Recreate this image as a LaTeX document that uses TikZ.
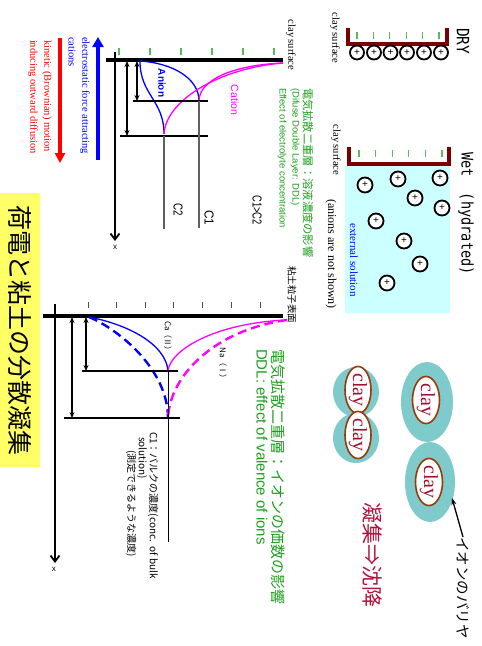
\documentclass[tikz,border=0pt]{standalone}
\usepackage{fontspec}
\setmainfont{Liberation Serif}
\newfontfamily\jpfont{Noto Sans CJK JP}
\newfontfamily\arialfont{Liberation Sans}
\newfontfamily\monofont{DejaVu Sans Mono}
\usetikzlibrary{arrows.meta,shapes.geometric}
\newcommand{\fsz}[1]{\fontsize{#1}{#1}\selectfont}

\definecolor{clayred}{HTML}{7A0000}
\definecolor{tickgreen}{HTML}{5FB85F}
\definecolor{txtgreen}{HTML}{1E9E1E}
\definecolor{solcyan}{HTML}{CCFFFF}
\definecolor{hydteal}{HTML}{7FCBCB}
\definecolor{rimbrown}{HTML}{9A3A0A}
\definecolor{claytxt}{HTML}{A0102E}
\definecolor{sinkred}{HTML}{B0103A}
\definecolor{boxyellow}{HTML}{FFFF66}
\definecolor{curvegray}{HTML}{606060}
\definecolor{catmag}{RGB}{255,0,255}
\definecolor{anblue}{RGB}{0,0,255}
\definecolor{kinred}{RGB}{255,0,0}

\begin{document}
\begin{tikzpicture}[x=1pt, y=-1pt,
  vlabel/.style={rotate=-90, inner sep=0pt, outer sep=0pt},
  ion/.style={circle, draw, line width=1.8pt, minimum size=14pt, inner sep=0pt, fill=white, font=\arialfont\fsz{10}},
  surf/.style={line width=3.5pt},
  bracketline/.style={clayred, line width=3.5pt},
  gtick/.style={tickgreen, line width=1.2pt},
  ktick/.style={black!70, line width=1pt},
  dbl/.style={line width=1.4pt, {Stealth[length=6pt,width=5pt]}-{Stealth[length=6pt,width=5pt]}},
  axisarrow/.style={line width=1.8pt, -{Straight Barb[length=6pt,width=9pt]}},
  anion/.style={anblue, line width=1.3pt},
  cation/.style={catmag, line width=1.3pt},
  dashcurve/.style={line width=2.4pt, dash pattern=on 9pt off 5pt},
  bulkline/.style={curvegray, line width=1.1pt},
  layerline/.style={black, line width=1.3pt},
  hydration/.style={ellipse, fill=hydteal, inner sep=0pt},
  claycore/.style={ellipse, draw=rimbrown, line width=1.6pt, fill=white, inner sep=0pt, rotate=-90,
    minimum width=44pt, minimum height=27pt, text=claytxt, font=\fsz{20}},
]
\useasboundingbox (0,0) rectangle (482,646);

% ---------------- dry clay ----------------
\node[vlabel, anchor=west, font=\monofont\fsz{17}, xscale=0.85] (dry) at (463,28) {DRY};
\draw[bracketline] (348,28) -- (348,44) -- (447,44) -- (447,28);
\foreach \x in {357,373.4,389.8,406.2,422.6,439} \draw[gtick] (\x,32) -- (\x,39);
\foreach \x [count=\i] in {357,374,390.5,407,424,441}
  \node[ion] (dion\i) at (\x,52.5) {+};
\node[vlabel, font=\fsz{10.5}] (drysurf) at (335,38) {clay surface};

% ---------------- wet clay ----------------
\node[vlabel, anchor=west, font=\monofont\fsz{16}, xscale=0.85] (wet) at (466,152) {Wet\ \ (hydrated)};
\fill[solcyan] (345,165) rectangle (450,313);
\draw[bracketline] (349,147) -- (349,164) -- (449,164) -- (449,147);
\foreach \x in {359,375.6,392.2,408.8,425.4,442} \draw[gtick] (\x,150) -- (\x,157);
\foreach \p [count=\i] in {(440,178),(398,179),(365,185),(415,198),(442,208),(376,221),(404,241),(420,264),(387,283)}
  \node[ion, minimum size=15pt] (wion\i) at \p {+};
\node[vlabel, font=\fsz{11}, text=anblue] (extsol) at (354,260) {external solution};
\node[vlabel, font=\fsz{12}] (notshown) at (331,254) {(anions are not shown)};
\node[vlabel, font=\fsz{10.5}] (wetsurf) at (336,150) {clay surface};

% ---------------- concentration profiles, electrolyte ----------------
\node[vlabel, font=\fsz{10.5}] (surf1lbl) at (291,45) {clay surface};
\node[vlabel, anchor=west, text=txtgreen, font=\jpfont\fsz{11.3}] (g1a) at (308,88) {電気拡散二重層：溶液濃度の影響};
\node[vlabel, anchor=west, text=txtgreen, font=\arialfont\fsz{9.5}] (g1b) at (295,88) {(Difuse Double Layer: DDL)};
\node[vlabel, anchor=west, text=txtgreen, font=\arialfont\fsz{9.5}] (g1c) at (282,88) {Effect of electrolyte concentration};
\node[vlabel, anchor=west, font=\jpfont\fsz{9.5}] (surf2lbl) at (292,266) {粘土粒子表面};

\coordinate (sA) at (106,60);
\coordinate (sB) at (283,60);
\draw[surf] (sA) -- (sB);
\coordinate (axA) at (115,52);
\coordinate (axB) at (115,241);
\draw[axisarrow] (axA) -- (axB);
\node[font=\arialfont\fsz{8}] (xlbl1) at (115,247) {x};
\foreach \x in {119,150,181,212,243,274} \draw[gtick] (\x,48) -- (\x,55);

\coordinate (an0) at (140,61);
\coordinate (ca0) at (283,63);
\coordinate (jC1) at (199,101);
\coordinate (jC2) at (164,134);
\draw[anion] (an0) .. controls (172,63) and (199,78) .. (jC1);
\draw[anion] (an0) .. controls (140,95) and (164,100) .. (jC2);
\draw[cation] (ca0) .. controls (233,65) and (199,80) .. (jC1);
\draw[cation] (ca0) .. controls (220,68) and (166,100) .. (jC2);

\coordinate (h1a) at (133,101);
\coordinate (h1b) at (208,101);
\coordinate (h2a) at (120,136);
\coordinate (h2b) at (208,136);
\draw[layerline] (h1a) -- (h1b);
\draw[layerline] (h2a) -- (h2b);
\coordinate (C1end) at (199,228);
\coordinate (C2end) at (164,229);
\draw[bulkline] (jC1) -- (C1end);
\draw[bulkline] (164,136) -- (C2end);
\coordinate (d1a) at (137,61);
\coordinate (d1b) at (137,101);
\coordinate (d2a) at (127,61);
\coordinate (d2b) at (127,136);
\draw[dbl] (d1a) -- (d1b);
\draw[dbl] (d2a) -- (d2b);

\node[vlabel, text=anblue, font=\arialfont\bfseries\fsz{10}] (anlbl) at (162,83) {Anion};
\node[vlabel, text=catmag, font=\arialfont\fsz{10.5}] (calbl) at (235,100) {Cation};
\node[vlabel, font=\arialfont\fsz{13}, xscale=0.72] (c1c2) at (257,210) {C1>C2};
\node[vlabel, font=\arialfont\fsz{13}, xscale=0.9] (c1lbl) at (209,218) {C1};
\node[vlabel, font=\arialfont\fsz{13}, xscale=0.75] (c2lbl) at (178,210) {C2};

% driving forces
\coordinate (bfA) at (98,160);
\coordinate (bfB) at (98,37);
\draw[anblue, line width=4.5pt, -{Triangle[length=10pt,width=11pt]}] (bfA) -- (bfB);
\coordinate (rfA) at (60,38);
\coordinate (rfB) at (60,163);
\draw[kinred, line width=3.5pt, -{Triangle[length=10pt,width=10pt]}] (rfA) -- (rfB);
\node[vlabel, anchor=west, text=anblue, font=\fsz{10.5}] (el1) at (85,37) {electrostatic force attracting};
\node[vlabel, anchor=west, text=anblue, font=\fsz{10.5}] (el2) at (72,37) {cations};
\node[vlabel, anchor=west, text=kinred, font=\fsz{10.5}] (ki1) at (47,40) {kinetic (Brownian) motion};
\node[vlabel, anchor=west, text=kinred, font=\fsz{10.5}] (ki2) at (33,40) {inducing outward diffusion};

% title
\node[rotate=-90, fill=boxyellow, minimum width=274pt, minimum height=40pt, inner sep=0pt,
  font=\jpfont\fsz{25}] (title) at (20,330) {荷電と粘土の分散凝集};

% ---------------- concentration profiles, valence ----------------
\coordinate (tA) at (43,316);
\coordinate (tB) at (283,316);
\draw[surf] (tA) -- (tB);
\coordinate (ax2A) at (55,304);
\coordinate (ax2B) at (55,563);
\draw[axisarrow] (ax2A) -- (ax2B);
\node[font=\arialfont\fsz{8}] (xlbl2) at (54,569) {x};
\foreach \x in {88,116,145,173,202,231,260} \draw[ktick] (\x,302) -- (\x,308);

\coordinate (bl0) at (89,317);
\coordinate (mg0) at (287,320);
\coordinate (jCa) at (168,371);
\coordinate (jNa) at (168,418);
\draw[anion] (bl0) .. controls (130,325) and (166,345) .. (jCa);
\draw[cation] (mg0) .. controls (215,323) and (170,350) .. (jCa);
\draw[anblue, dashcurve] (bl0) .. controls (120,330) and (168,370) .. (jNa);
\draw[catmag, dashcurve] (mg0) .. controls (215,330) and (170,375) .. (jNa);

\coordinate (k1a) at (82,371);
\coordinate (k1b) at (178,371);
\coordinate (k2a) at (64,418);
\coordinate (k2b) at (180,418);
\draw[layerline] (k1a) -- (k1b);
\draw[layerline] (k2a) -- (k2b);
\coordinate (bulkend) at (168,542);
\draw[black, line width=1pt] (jCa) -- (bulkend);
\coordinate (e1a) at (86,317);
\coordinate (e1b) at (86,371);
\coordinate (e2a) at (72,317);
\coordinate (e2b) at (72,418);
\draw[dbl] (e1a) -- (e1b);
\draw[dbl] (e2a) -- (e2b);

\node[vlabel, font=\jpfont\fsz{8}] (calabel) at (168,338) {Ca（Ⅱ）};
\node[vlabel, font=\jpfont\fsz{8}] (nalabel) at (223,365) {Na（Ⅰ）};
\node[vlabel, anchor=west, font=\jpfont\fsz{10}] (bulk1) at (153,432) {C1：バルクの濃度(conc.\ \ of bulk};
\node[vlabel, anchor=west, font=\jpfont\fsz{10}] (bulk2) at (142,437) {solution)};
\node[vlabel, anchor=west, font=\jpfont\fsz{10}] (bulk3) at (131,450) {(測定できるような濃度)};

\node[vlabel, anchor=west, text=txtgreen, font=\jpfont\fsz{15}] (g2a) at (278,349) {電気拡散二重層：イオンの価数の影響};
\node[vlabel, anchor=west, text=txtgreen, font=\arialfont\fsz{15}] (g2b) at (262,349) {DDL: effect of valence of ions};

% ---------------- hydrated particles ----------------
\node[hydration, minimum width=52pt, minimum height=80pt] (p1) at (427,402) {};
\node[hydration, minimum width=50pt, minimum height=80pt] (p2) at (430,482) {};
\node[hydration, minimum width=46pt, minimum height=50pt] (p3) at (356,392) {};
\node[hydration, minimum width=46pt, minimum height=50pt] (p4) at (356,438) {};
\node[claycore] (c1) at (426,400) {clay};
\node[claycore] (c2) at (429,482) {clay};
\node[claycore, minimum height=26pt] (c3) at (358,390) {clay};
\node[claycore, minimum height=26pt] (c4) at (358,435) {clay};

\node[vlabel, anchor=west, font=\jpfont\fsz{14.5}] (barrier) at (463,537) {イオンのバリヤ};
\coordinate (barriertip) at (452,498);
\draw[line width=1.3pt, -{Stealth[length=7pt,width=5pt]}] (barrier.west) -- (barriertip);
\node[vlabel, anchor=west, text=sinkred, font=\jpfont\fsz{21}] (sink) at (372,502) {凝集⇒沈降};
\end{tikzpicture}
\end{document}
